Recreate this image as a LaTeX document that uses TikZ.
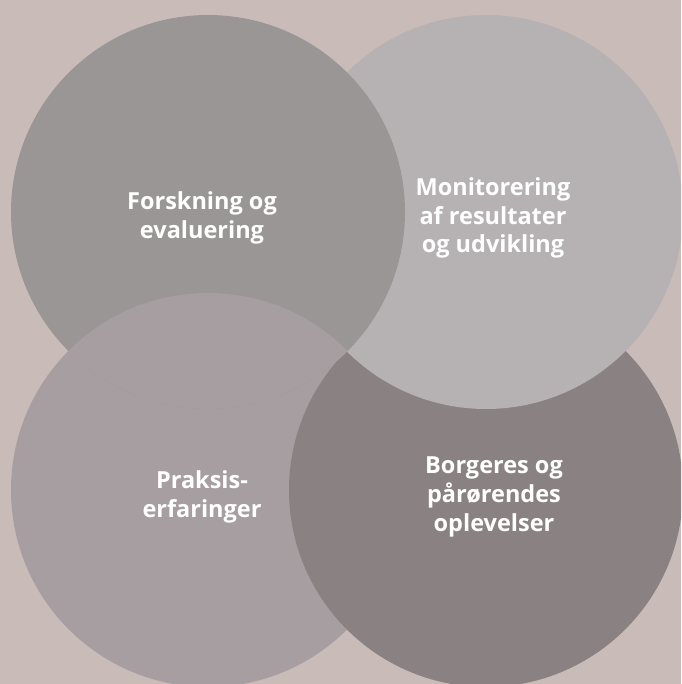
\documentclass[tikz,border=0pt]{standalone}
\usepackage{fontspec}
\setmainfont{Open Sans}
\definecolor{bgtan}{HTML}{C9BCB8}
\definecolor{circA}{HTML}{9B9696}
\definecolor{circB}{HTML}{B6B1B2}
\definecolor{circC}{HTML}{A79EA1}
\definecolor{circD}{HTML}{8A8182}

\begin{document}
\begin{tikzpicture}[x=1pt, y=-1pt, every node/.style={font=\fontsize{23.5}{28.8}\selectfont\bfseries, text=white, align=center}]
% Background
\fill[bgtan] (0,0) rectangle (681,684);
\useasboundingbox (0,0) rectangle (681,684);
\clip (0,0) rectangle (681,684);

% Circles: top-left over top-right over bottom-right over bottom-left over top-left
\fill[circC] (208,490) circle[radius=197pt];
\fill[circD] (486,490) circle[radius=197pt];
\fill[circB] (486,212) circle[radius=197pt];
\fill[circA] (208,212) circle[radius=197pt];
\begin{scope}
  \clip (208,212) circle[radius=197pt];
  \fill[circC] (208,490) circle[radius=197pt];
\end{scope}

% Labels
\node (forsk) at (202,218) {Forskning og\\evaluering};
\node (monit) at (493,218) {Monitorering\\af resultater\\og udvikling};
\node (praks) at (202,497) {Praksis-\\erfaringer};
\node (borg)  at (494,497) {Borgeres og\\pårørendes\\oplevelser};

\end{tikzpicture}
\end{document}
